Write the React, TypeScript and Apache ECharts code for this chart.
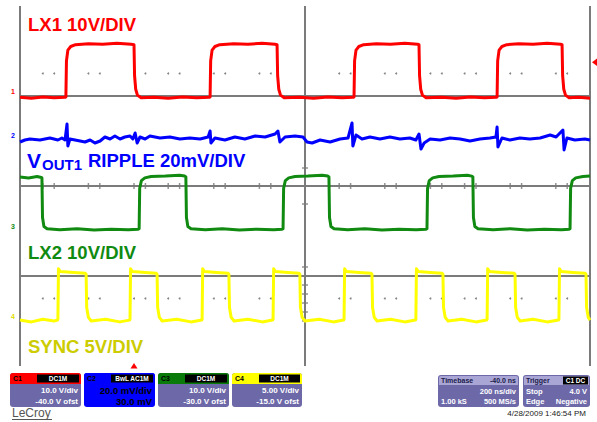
import React, { useEffect, useRef } from "react";
import * as echarts from "echarts";

// ---- Data (time in ns, 200 ns/div over 10 div; amplitudes in each channel's own units) ----
const TIME_MIN = 0;
const TIME_MAX = 2000;

// LX1 switch node, volts (10 V/div)
const LX1: [number, number][] = [
  [0, -0.3], [40, -0.5], [80, -0.2], [120, -0.4], [158, -0.3],
  [161, -0.2], [163, 7.8], [168, 10.2], [178, 11.0], [195, 11.4], [240, 11.6], [290, 11.5], [340, 11.7], [390, 11.5],
  [400, 11.4], [402, 4.5], [406, 1.5], [412, 0.2], [425, -0.4], [470, -0.3], [520, -0.5], [570, -0.2], [620, -0.4], [664, -0.3],
  [667, -0.2], [669, 7.8], [674, 10.2], [684, 11.0], [701, 11.4], [750, 11.6], [800, 11.5], [850, 11.7], [895, 11.5],
  [902, 11.4], [904, 4.5], [908, 1.5], [914, 0.2], [927, -0.4], [980, -0.3], [1030, -0.5], [1080, -0.2], [1130, -0.4], [1169, -0.3],
  [1172, -0.2], [1174, 7.8], [1179, 10.2], [1189, 11.0], [1206, 11.4], [1250, 11.6], [1300, 11.5], [1350, 11.7], [1395, 11.5],
  [1400, 11.4], [1402, 4.5], [1406, 1.5], [1412, 0.2], [1425, -0.4], [1480, -0.3], [1530, -0.5], [1580, -0.2], [1630, -0.4], [1671, -0.3],
  [1674, -0.2], [1676, 7.8], [1681, 10.2], [1691, 11.0], [1708, 11.4], [1750, 11.6], [1800, 11.5], [1850, 11.7], [1897, 11.5],
  [1902, 11.4], [1904, 4.5], [1908, 1.5], [1914, 0.2], [1927, -0.4], [1960, -0.3], [2000, -0.5],
];

// VOUT1 ripple, mV (20 mV/div, AC)
const VOUT1_RIPPLE: [number, number][] = [
  [0, -0.44], [17, 0.44], [35, 0.89], [70, 0.44], [105, 1.33], [133, 0.44], [147, 1.33], [158, 0.44],
  [165, 7.55], [168, -2.22], [175, 0.89], [193, 0.44], [211, 0], [228, -0.44], [246, 0.44], [263, -0.89],
  [281, 0], [298, 1.78], [316, 0.89], [333, 2.22], [351, 0.89], [368, 1.78], [386, 2.22], [396, 0.89],
  [404, 3.55], [411, -0.89], [421, 1.78], [439, 0.89], [456, 2.22], [491, 1.33], [526, 1.78], [561, 0.89],
  [596, 1.33], [632, 0.89], [660, 1.78], [667, 4.44], [670, -0.89], [684, 1.33], [719, 0.44], [754, 1.78],
  [789, 0.89], [825, 2.22], [860, 1.78], [895, 3.11], [905, 4.44], [912, -0.44], [930, 1.78], [965, 2.22],
  [993, 1.78], [1007, -0.44], [1025, -0.89], [1053, 0.44], [1088, -0.44], [1123, 0.89], [1151, 1.33],
  [1165, 8.0], [1168, -2.22], [1179, 2.66], [1200, 0.89], [1228, 1.78], [1263, 0.89], [1298, 1.78],
  [1333, 0.89], [1368, 1.33], [1389, 0.44], [1400, 3.11], [1407, -3.55], [1418, -0.89], [1439, 0.89],
  [1474, 0.44], [1509, 1.33], [1544, 0.89], [1579, 0], [1614, 0.89], [1649, 1.33], [1670, 1.78],
  [1674, 6.22], [1677, -2.66], [1691, 1.33], [1719, 0.44], [1754, 1.33], [1789, 0.89], [1825, 1.33],
  [1860, 2.66], [1881, 1.78], [1905, 4.88], [1909, -4.0], [1919, 1.33], [1947, 0.44], [1982, 0.89], [2000, 0.44],
];

// LX2 switch node, volts (10 V/div)
const LX2: [number, number][] = [
  [0, 12.0], [30, 11.8], [60, 12.1], [75, 11.9],
  [77, 11.8], [79, 3.0], [84, 1.0], [95, 0.5], [140, 0.3], [200, 0.5], [260, 0.2], [320, 0.4], [380, 0.3], [415, 0.4],
  [418, 0.5], [420, 9.5], [426, 11.2], [438, 11.8], [460, 12.1], [510, 12.2], [560, 12.4], [578, 12.2],
  [582, 12.0], [584, 3.0], [589, 1.0], [600, 0.5], [650, 0.3], [710, 0.5], [770, 0.2], [830, 0.4], [890, 0.3], [920, 0.4],
  [923, 0.5], [925, 9.5], [931, 11.2], [943, 11.8], [965, 12.1], [1010, 12.2], [1060, 12.4], [1080, 12.2],
  [1084, 12.0], [1086, 3.0], [1091, 1.0], [1102, 0.5], [1150, 0.3], [1210, 0.5], [1270, 0.2], [1330, 0.4], [1390, 0.3], [1425, 0.4],
  [1428, 0.5], [1430, 9.5], [1436, 11.2], [1448, 11.8], [1470, 12.1], [1520, 12.2], [1570, 12.4], [1585, 12.2],
  [1589, 12.0], [1591, 3.0], [1596, 1.0], [1607, 0.5], [1660, 0.3], [1720, 0.5], [1780, 0.2], [1840, 0.4], [1900, 0.3], [1927, 0.4],
  [1930, 0.5], [1932, 9.5], [1938, 11.2], [1950, 11.8], [1975, 12.1], [2000, 12.2],
];

// SYNC, volts (5 V/div)
const SYNC: [number, number][] = [
  [0, 0.1], [40, -0.1], [80, 0.2], [120, 0.0], [131, 0.1],
  [133, 0.2], [135, 5.8], [141, 5.5], [190, 5.4], [229, 5.3],
  [232, 5.2], [234, 1.5], [240, 0.4], [250, 0.0], [300, 0.2], [350, -0.1], [384, 0.1],
  [386, 0.2], [388, 5.8], [394, 5.5], [440, 5.4], [478, 5.3],
  [481, 5.2], [483, 1.5], [489, 0.4], [499, 0.0], [550, 0.2], [600, -0.1], [637, 0.1],
  [639, 0.2], [641, 5.8], [647, 5.5], [690, 5.4], [730, 5.3],
  [733, 5.2], [735, 1.5], [741, 0.4], [751, 0.0], [800, 0.2], [850, -0.1], [886, 0.1],
  [888, 0.2], [890, 5.8], [896, 5.5], [940, 5.4], [979, 5.3],
  [982, 5.2], [984, 1.5], [990, 0.4], [1000, 0.0], [1050, 0.2], [1100, -0.1], [1135, 0.1],
  [1137, 0.2], [1139, 5.8], [1145, 5.5], [1190, 5.4], [1232, 5.3],
  [1235, 5.2], [1237, 1.5], [1243, 0.4], [1253, 0.0], [1300, 0.2], [1350, -0.1], [1387, 0.1],
  [1389, 0.2], [1391, 5.8], [1397, 5.5], [1440, 5.4], [1481, 5.3],
  [1484, 5.2], [1486, 1.5], [1492, 0.4], [1502, 0.0], [1550, 0.2], [1600, -0.1], [1637, 0.1],
  [1639, 0.2], [1641, 5.8], [1647, 5.5], [1690, 5.4], [1734, 5.3],
  [1737, 5.2], [1739, 1.5], [1745, 0.4], [1755, 0.0], [1800, 0.2], [1850, -0.1], [1889, 0.1],
  [1891, 0.2], [1893, 5.8], [1899, 5.5], [1940, 5.4], [1983, 5.3],
  [1986, 5.2], [1988, 1.5], [1994, 0.4], [2000, 0.1],
];

// Graticule (screen divisions 0..8 vertically, time in ns horizontally)
const GRID_H_LINES = [2, 4, 6];
const GRID_V_LINES = [0, 1000, 2000];
const GRID_DOT_X = [80, 120, 240, 280, 400, 440, 520, 560, 680, 720, 840, 880, 1120, 1160, 1280, 1320, 1440, 1480, 1560, 1600, 1720, 1760, 1880, 1920];
const GRID_DOT_ROWS = [6.5, 1.5];
const CENTER_V_TICKS = [4.4, 3.6, 2.2, 1.8, 1.6, 1.4, 1.2, 1.0];

// Trace captions
const CAPTIONS = {
  lx1: "LX1 10V/DIV",
  voutMain: "V",
  voutSub: "OUT1",
  voutRest: "RIPPLE 20mV/DIV",
  lx2: "LX2 10V/DIV",
  sync: "SYNC 5V/DIV",
};

// Channel readout boxes
const CH_NAMES = ["C1", "C2", "C3", "C4"];
const CH_COUPLING = ["DC1M", "BwL AC1M", "DC1M", "DC1M"];
const CH_SCALE = ["10.0 V/div", "20.0 mV/div", "10.0 V/div", "5.00 V/div"];
const CH_OFFSET = ["-40.0 V ofst", "30.0 mV", "-30.0 V ofst", "-15.0 V ofst"];
const TIMEBASE_TEXT = ["Timebase", "-40.0 ns", "200 ns/div", "1.00 kS", "500 MS/s"];
const TRIGGER_TEXT = ["Trigger", "C1 DC", "Stop", "4.0 V", "Edge", "Negative"];
const TIMESTAMP = "4/28/2009 1:46:54 PM";
const BRAND = "LeCroy";

const FONT = "'Liberation Sans', Arial, Helvetica, sans-serif";

const RED = "#ff0000";
const BLUE = "#0000ff";
const GREEN = "#118a11";
const YELLOW = "#ffff00";
const PURPLE = "#6d69a9";

function txt(x: number, y: number, text: string, font: string, fill: string, align = "left", vAlign = "middle") {
  return {
    type: "text",
    x,
    y,
    silent: true,
    z: 20,
    style: { text, font, fill, textAlign: align, textVerticalAlign: vAlign, verticalAlign: vAlign },
  };
}

function channelBox(i: number, x: number, w: number, header: string, body: string, textFill: string, headerText: string, bodyFont: string) {
  const y = 373;
  const h = 34;
  const els: any[] = [
    { type: "rect", silent: true, z: 15, shape: { x, y, width: w, height: h, r: 3 }, style: { fill: body } },
    { type: "rect", silent: true, z: 16, shape: { x, y, width: w, height: 11, r: [3, 3, 0, 0] }, style: { fill: header } },
    { type: "rect", silent: true, z: 17, shape: { x: x + 27, y: y + 1.5, width: w - 29, height: 8 }, style: { fill: "#000" } },
    txt(x + 3, y + 5.5, CH_NAMES[i], `bold 7px ${FONT}`, headerText),
    txt(x + 27 + (w - 29) / 2, y + 5.5, CH_COUPLING[i], `bold 6.5px ${FONT}`, "#ffffff", "center"),
    txt(x + w - 3, y + 17, CH_SCALE[i], bodyFont, textFill, "right"),
    txt(x + w - 3, y + 28, CH_OFFSET[i], bodyFont, textFill, "right"),
  ];
  return els;
}

export default function App() {
  const ref = useRef<HTMLDivElement>(null);

  useEffect(() => {
    if (!ref.current) return;
    const chart = echarts.init(ref.current, null, { renderer: "svg" });

    const dots: [number, number][] = [];
    GRID_DOT_ROWS.forEach((r) => GRID_DOT_X.forEach((x) => dots.push([x, r])));
    const hTicks = GRID_DOT_X.map((x) => [x, 4]);
    const vTicks = CENTER_V_TICKS.map((y) => [1000, y]);

    const graphics: any[] = [
      // captions
      txt(28, 24.5, CAPTIONS.lx1, `bold 18.5px ${FONT}`, RED),
      txt(27, 160, CAPTIONS.voutMain, `bold 21px ${FONT}`, BLUE),
      txt(42, 164, CAPTIONS.voutSub, `bold 15px ${FONT}`, BLUE),
      txt(88, 160, CAPTIONS.voutRest, `bold 18.5px ${FONT}`, BLUE),
      txt(28, 252.5, CAPTIONS.lx2, `bold 18.5px ${FONT}`, GREEN),
      txt(28, 346, CAPTIONS.sync, `bold 18.5px ${FONT}`, "#cccc00"),
      // channel ground markers
      txt(13, 91, "1", `bold 7px ${FONT}`, RED, "center"),
      txt(13, 135, "2", `bold 7px ${FONT}`, BLUE, "center"),
      txt(13, 226, "3", `bold 7px ${FONT}`, GREEN, "center"),
      txt(13, 316, "4", `bold 7px ${FONT}`, "#dddd00", "center"),
      // trigger markers
      { type: "polygon", silent: true, z: 20, shape: { points: [[597, 58.5], [597, 66], [592, 62.3]] }, style: { fill: RED } },
      { type: "polygon", silent: true, z: 20, shape: { points: [[130.5, 368.5], [137.5, 368.5], [134, 363]] }, style: { fill: RED } },
      // channel boxes
      ...channelBox(0, 10, 71, RED, PURPLE, "#ffffff", "#000", `bold 8px ${FONT}`),
      ...channelBox(1, 84, 71, BLUE, BLUE, "#000000", "#000", `bold 9.5px ${FONT}`),
      ...channelBox(2, 158, 71, "#0a7a0a", PURPLE, "#ffffff", "#000", `bold 8px ${FONT}`),
      ...channelBox(3, 232, 70, YELLOW, PURPLE, "#ffffff", "#000", `bold 8px ${FONT}`),
      // timebase box
      { type: "rect", silent: true, z: 15, shape: { x: 438, y: 375, width: 81, height: 32, r: 3 }, style: { fill: PURPLE } },
      { type: "rect", silent: true, z: 16, shape: { x: 439, y: 376, width: 79, height: 9, r: [2, 2, 0, 0] }, style: { fill: "#a9a6d6" } },
      txt(441, 380.5, TIMEBASE_TEXT[0], `bold 7px ${FONT}`, "#1b1b4a"),
      txt(516, 380.5, TIMEBASE_TEXT[1], `bold 7px ${FONT}`, "#1b1b4a", "right"),
      txt(516, 391, TIMEBASE_TEXT[2], `bold 7.5px ${FONT}`, "#ffffff", "right"),
      txt(441, 401.5, TIMEBASE_TEXT[3], `bold 7.5px ${FONT}`, "#ffffff"),
      txt(516, 401.5, TIMEBASE_TEXT[4], `bold 7.5px ${FONT}`, "#ffffff", "right"),
      // trigger box
      { type: "rect", silent: true, z: 15, shape: { x: 523, y: 375, width: 67, height: 32, r: 3 }, style: { fill: PURPLE } },
      { type: "rect", silent: true, z: 16, shape: { x: 524, y: 376, width: 65, height: 9, r: [2, 2, 0, 0] }, style: { fill: "#a9a6d6" } },
      { type: "rect", silent: true, z: 17, shape: { x: 563, y: 376.5, width: 25, height: 8 }, style: { fill: "#000" } },
      txt(526, 380.5, TRIGGER_TEXT[0], `bold 7px ${FONT}`, "#1b1b4a"),
      txt(575.5, 380.5, TRIGGER_TEXT[1], `bold 6.5px ${FONT}`, "#ffffff", "center"),
      txt(526, 391, TRIGGER_TEXT[2], `bold 7.5px ${FONT}`, "#ffffff"),
      txt(587, 391, TRIGGER_TEXT[3], `bold 7.5px ${FONT}`, "#ffffff", "right"),
      txt(526, 401.5, TRIGGER_TEXT[4], `bold 7.5px ${FONT}`, "#ffffff"),
      txt(587, 401.5, TRIGGER_TEXT[5], `bold 7.5px ${FONT}`, "#ffffff", "right"),
      // footer
      txt(586, 413.5, TIMESTAMP, `8px ${FONT}`, "#222", "right"),
      txt(12, 412.5, BRAND, `12px ${FONT}`, "#555"),
      { type: "line", silent: true, z: 20, shape: { x1: 12, y1: 419.5, x2: 52, y2: 419.5 }, style: { stroke: "#555", lineWidth: 1 } },
    ];

    const traceLine = (name: string, data: [number, number][], yAxisIndex: number, color: string, z: number) => ({
      type: "line",
      name,
      data,
      yAxisIndex,
      showSymbol: false,
      symbol: "none",
      silent: true,
      z,
      lineStyle: { color, width: 3, cap: "butt", join: "round" },
      emphasis: { disabled: true },
    });

    chart.setOption({
      animation: false,
      backgroundColor: "#ffffff",
      grid: { left: 20, top: 6, width: 570, height: 360 },
      xAxis: { type: "value", min: TIME_MIN, max: TIME_MAX, show: false },
      yAxis: [
        { type: "value", min: 0, max: 8, show: false },
        { type: "value", min: -60, max: 20, show: false },
        { type: "value", min: -100, max: 60, show: false },
        { type: "value", min: -30, max: 50, show: false },
        { type: "value", min: -5, max: 35, show: false },
      ],
      series: [
        {
          type: "line",
          yAxisIndex: 0,
          data: [[0, -1]],
          showSymbol: false,
          symbol: "none",
          silent: true,
          clip: false,
          z: 1,
          lineStyle: { opacity: 0 },
          markLine: {
            silent: true,
            symbol: ["none", "none"],
            label: { show: false },
            emphasis: { disabled: true },
            lineStyle: { color: "#7b7b7b", width: 2, type: "solid" },
            data: [
              ...GRID_H_LINES.map((v) => ({ yAxis: v })),
              ...GRID_V_LINES.map((v) => ({ xAxis: v })),
            ],
          },
        },
        {
          type: "scatter",
          yAxisIndex: 0,
          data: dots,
          symbol: "circle",
          symbolSize: 2,
          silent: true,
          z: 2,
          itemStyle: { color: "#666" },
        },
        {
          type: "scatter",
          yAxisIndex: 0,
          data: hTicks,
          symbol: "rect",
          symbolSize: [1.5, 6],
          silent: true,
          z: 2,
          itemStyle: { color: "#777" },
        },
        {
          type: "scatter",
          yAxisIndex: 0,
          data: vTicks,
          symbol: "rect",
          symbolSize: [6, 1.5],
          silent: true,
          z: 2,
          itemStyle: { color: "#777" },
        },
        traceLine("LX1", LX1, 1, RED, 5),
        traceLine("VOUT1", VOUT1_RIPPLE, 2, BLUE, 5),
        traceLine("LX2", LX2, 3, GREEN, 5),
        traceLine("SYNC", SYNC, 4, YELLOW, 5),
      ],
      graphic: { elements: graphics },
    });

    return () => chart.dispose();
  }, []);

  return (
    <div
      ref={ref}
      style={{ position: "fixed", left: 0, top: 0, width: 597, height: 422, background: "#fff" }}
    />
  );
}
